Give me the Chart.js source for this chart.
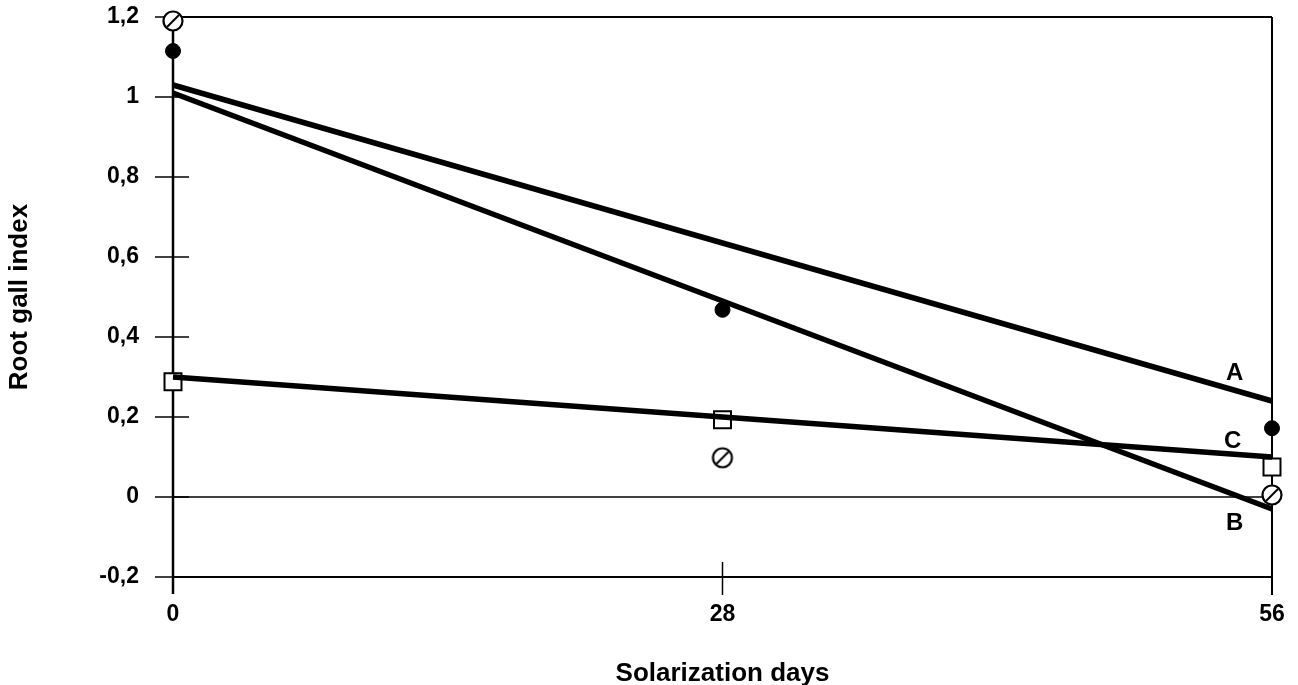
<!DOCTYPE html>
<html>
<head>
<meta charset="utf-8">
<script src="https://cdn.jsdelivr.net/npm/chart.js@4.4.1/dist/chart.umd.min.js"></script>
<style>
  body { margin: 0; background: #fff; }
  #wrap { width: 1298px; height: 685px; }
</style>
</head>
<body>
<div id="wrap"><canvas id="gallChart" width="1298" height="685"></canvas></div>
<script>
// Root gall index vs. days of solarization
const days = [0, 28, 56];
const filledDots = [1.115, 0.468, 0.172];   // filled circles
const hatchedDots = [1.19, 0.098, 0.005];   // hatched open circles
const squareDots = [0.288, 0.193, 0.075];   // open squares

// fitted lines, value at day 0 and day 56
const lineA = [1.03, 0.24];
const lineB = [1.01, -0.03];
const lineC = [0.30, 0.10];
const lineNames = ['A', 'B', 'C'];
const nameSpots = [[54.1, 0.31], [54.1, -0.065], [54.0, 0.14]];

const yTicks = [-0.2, 0, 0.2, 0.4, 0.6, 0.8, 1, 1.2];

const FONT = '"Liberation Sans", Arial, sans-serif';

const toPts = vals => days.map((d, i) => ({ x: d, y: vals[i] }));
const endPts = vals => [{ x: 0, y: vals[0] }, { x: 56, y: vals[1] }];

// hatched circle marker
function hatchedCircle() {
    const c = document.createElement('canvas');
    c.width = 24; c.height = 24;
    const g = c.getContext('2d');
    g.fillStyle = '#fff';
    g.strokeStyle = '#000';
    g.lineWidth = 2.2;
    g.beginPath();
    g.arc(12, 12, 9.5, 0, Math.PI * 2);
    g.fill();
    g.stroke();
    g.lineWidth = 2;
    g.beginPath();
    g.moveTo(18, 6);
    g.lineTo(6, 18);
    g.stroke();
    return c;
}

// axes, borders and tick marks drawn under the data
const framePlugin = {
    id: 'frame',
    beforeDatasetsDraw(chart) {
        const { ctx, scales: { x, y } } = chart;
        const x0 = x.getPixelForValue(0), x28 = x.getPixelForValue(28), x56 = x.getPixelForValue(56);
        const yTop = y.getPixelForValue(1.2), yZero = y.getPixelForValue(0), yBot = y.getPixelForValue(-0.2);
        ctx.save();
        ctx.strokeStyle = '#000';
        const seg = (ax, ay, bx, by, w) => {
            ctx.lineWidth = w;
            ctx.beginPath();
            ctx.moveTo(ax, ay);
            ctx.lineTo(bx, by);
            ctx.stroke();
        };
        seg(x0, yTop, x56, yTop, 2);
        seg(x0, yZero, x56, yZero, 1.5);
        seg(x0, yBot, x56, yBot, 2);
        seg(x0, yTop, x0, yBot + 17, 2.5);
        seg(x56, yTop, x56, yBot + 18, 2);
        seg(x28, yBot - 15, x28, yBot + 18, 1.5);
        yTicks.forEach(v => {
            const py = y.getPixelForValue(v);
            seg(x0 - 18, py, x0 + 16, py, 1.5);
        });
        ctx.restore();
    },
    afterDatasetsDraw(chart) {
        const { ctx, scales: { x, y } } = chart;
        ctx.save();
        ctx.fillStyle = '#000';
        ctx.font = 'bold 24px ' + FONT;
        ctx.textAlign = 'center';
        ctx.textBaseline = 'middle';
        lineNames.forEach((n, i) => {
            ctx.fillText(n, x.getPixelForValue(nameSpots[i][0]), y.getPixelForValue(nameSpots[i][1]));
        });
        ctx.restore();
    }
};

const fitLine = vals => ({
    type: 'line',
    data: endPts(vals),
    borderColor: '#000',
    borderWidth: 5.5,
    pointRadius: 0,
    fill: false,
    clip: false
});

new Chart(document.getElementById('gallChart'), {
    type: 'scatter',
    data: {
        datasets: [
            fitLine(lineA),
            fitLine(lineB),
            fitLine(lineC),
            {
                data: toPts(filledDots),
                pointStyle: 'circle',
                pointRadius: 7.5,
                backgroundColor: '#000',
                borderColor: '#000',
                borderWidth: 1,
                clip: false
            },
            {
                data: toPts(hatchedDots),
                pointStyle: hatchedCircle(),
                clip: false
            },
            {
                data: toPts(squareDots),
                pointStyle: 'rect',
                pointRadius: 12,
                backgroundColor: '#fff',
                borderColor: '#000',
                borderWidth: 2,
                clip: false
            }
        ]
    },
    options: {
        responsive: false,
        animation: false,
        layout: { padding: { top: 17, right: 26, left: 0, bottom: 0 } },
        plugins: { legend: { display: false }, tooltip: { enabled: false } },
        scales: {
            x: {
                type: 'linear',
                min: 0,
                max: 56,
                afterFit(scale) {
                    scale.height = 108;
                    scale.paddingLeft = 0;
                    scale.paddingRight = 0;
                },
                afterBuildTicks(scale) { scale.ticks = days.map(v => ({ value: v })); },
                grid: { display: false, drawTicks: false },
                border: { display: false },
                ticks: {
                    color: '#000',
                    padding: 24,
                    maxRotation: 0,
                    font: { family: FONT, size: 23, weight: 'bold' }
                },
                title: {
                    display: true,
                    text: 'Solarization days',
                    color: '#000',
                    padding: { top: 0, bottom: -4 },
                    font: { family: FONT, size: 26, weight: 'bold' }
                }
            },
            y: {
                type: 'linear',
                min: -0.2,
                max: 1.2,
                afterFit(scale) {
                    scale.width = 173;
                    scale.paddingTop = 0;
                    scale.paddingBottom = 0;
                },
                afterBuildTicks(scale) { scale.ticks = yTicks.map(v => ({ value: v })); },
                grid: { display: false, drawTicks: false },
                border: { display: false },
                ticks: {
                    color: '#000',
                    padding: 34,
                    font: { family: FONT, size: 23, weight: 'bold' },
                    callback: v => String(Math.round(v * 10) / 10).replace('.', ',')
                },
                title: {
                    display: true,
                    text: 'Root gall index',
                    color: '#000',
                    padding: { top: 4, bottom: 0 },
                    font: { family: FONT, size: 26, weight: 'bold' }
                }
            }
        }
    },
    plugins: [framePlugin]
});
</script>
</body>
</html>
